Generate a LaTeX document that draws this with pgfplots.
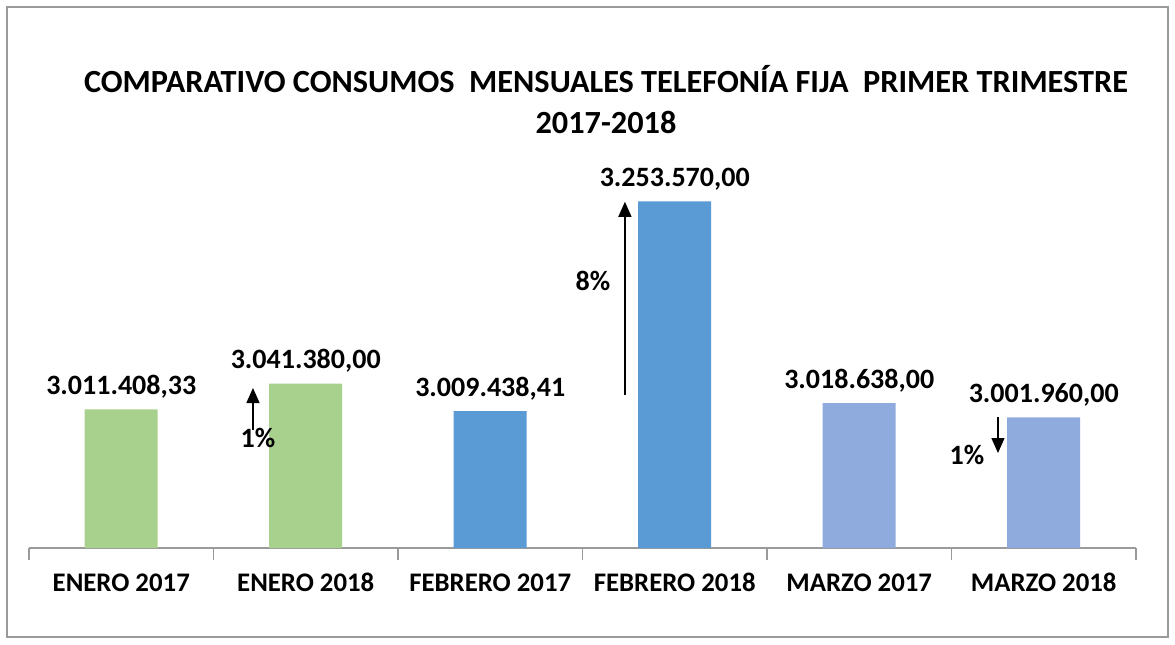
\documentclass[border=0pt]{standalone}
\usepackage{pgfplots}
\pgfplotsset{compat=1.18}
\usetikzlibrary{arrows.meta}
\usepackage{fontspec}
\setmainfont{Carlito}
\definecolor{cgreen}{HTML}{A9D18E}
\definecolor{cblue}{HTML}{5B9BD5}
\definecolor{cpurp}{HTML}{8FAADC}
\definecolor{frame}{HTML}{9A9A9A}
\begin{document}
\begin{tikzpicture}
\useasboundingbox (0,0) rectangle (587.5pt,322pt);
\fill[white] (0,0) rectangle (587.5pt,322pt);
\draw[frame, line width=0.8pt] (3.5pt,3.5pt) rectangle (584pt,318.5pt);
\node[font=\fontsize{16.15}{19}\selectfont\bfseries, align=center] at (303pt,272.25pt)
  {COMPARATIVO CONSUMOS\ \ MENSUALES TELEFONÍA FIJA\ \ PRIMER TRIMESTRE\\[1.5pt]2017-2018};
\begin{axis}[
  at={(14.5pt,48pt)}, anchor=south west,
  scale only axis, width=553.5pt, height=193.3pt,
  xmin=-0.5, xmax=5.5, ymin=2850000, ymax=3300000,
  clip=false,
  axis y line=none,
  axis x line*=bottom,
  x axis line style={-, draw=frame, line width=0.8pt},
  xtick={0,...,5},
  xticklabels={ENERO 2017, ENERO 2018, FEBRERO 2017, FEBRERO 2018, MARZO 2017, MARZO 2018},
  major tick length=0pt,
  xticklabel style={font=\fontsize{13.4}{16}\selectfont\bfseries, anchor=base, yshift=-21.5pt},
  extra x ticks={-0.5,0.5,1.5,2.5,3.5,4.5,5.5},
  extra x tick labels={},
  extra x tick style={major tick length=6pt, tick align=outside, tick style={draw=frame, line width=0.6pt}},
  ybar, bar width=36.5pt, bar shift=0pt,
  point meta=explicit symbolic,
  nodes near coords,
  every node near coord/.append style={font=\fontsize{14}{16}\selectfont\bfseries, anchor=base, yshift=7.5pt, text=black},
]
\addplot[fill=cgreen, draw=none] coordinates {(0,3011408.33) [3.011.408,33] (1,3041380) [3.041.380,00]};
\addplot[fill=cblue, draw=none] coordinates {(2,3009438.41) [3.009.438,41] (3,3253570) [3.253.570,00]};
\addplot[fill=cpurp, draw=none] coordinates {(4,3018638) [3.018.638,00] (5,3001960) [3.001.960,00]};
\draw[-{Triangle[length=7.5pt,width=6.5pt]}, line width=0.7pt] (axis cs:0.714,2987352) -- (axis cs:0.714,3036240);
\node[font=\fontsize{14}{16}\selectfont\bfseries] at (axis cs:0.741,2978000) {1\%};
\draw[-{Triangle[length=7.5pt,width=6.5pt]}, line width=0.7pt] (axis cs:2.730,3028092) -- (axis cs:2.730,3253000);
\node[font=\fontsize{14}{16}\selectfont\bfseries] at (axis cs:2.557,3160800) {8\%};
\draw[-{Triangle[length=7.5pt,width=6.5pt]}, line width=0.7pt] (axis cs:4.752,3002484) -- (axis cs:4.752,2960580);
\node[font=\fontsize{14}{16}\selectfont\bfseries] at (axis cs:4.584,2958000) {1\%};
\end{axis}
\end{tikzpicture}
\end{document}
